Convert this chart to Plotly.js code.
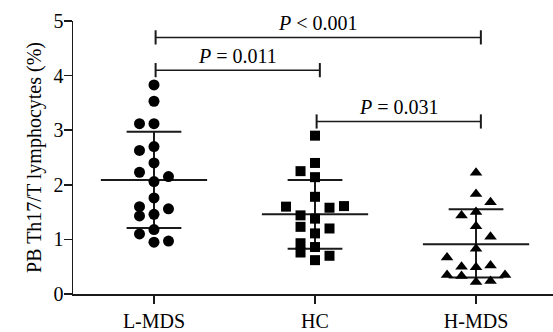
<!DOCTYPE html>
<html><head><meta charset="utf-8">
<script src="https://cdn.plot.ly/plotly-3.0.1.min.js"></script>
<style>html,body{margin:0;padding:0;background:#fff}#chart{width:553px;height:332px}</style>
</head><body><div id="chart"></div>
<script>
var categories = ['L-MDS', 'HC', 'H-MDS'];
var yTicks = [0, 1, 2, 3, 4, 5];

var lmdsValues = [3.83, 3.53, 3.12, 3.12, 2.63, 2.70, 2.40, 2.23, 2.15, 2.06, 1.76, 1.60, 1.56, 1.43, 1.46, 1.18, 1.10, 0.95, 0.97];
var lmdsJitter = [0, 0, -1, 0, -1, 0, 0, -1, 1, 0, 0, -1, 1, -1, 0, 0, -1, 0, 1];

var hcValues = [2.90, 2.40, 2.25, 2.14, 1.78, 1.60, 1.58, 1.61, 1.44, 1.38, 1.23, 1.20, 1.11, 0.93, 0.86, 0.76, 0.62, 0.70];
var hcJitter = [0, 0, -1, 0, 0, -2, 1, 2, -1, 0, -1, 1, 0, -1, 0, -1, 0, 1];

var hmdsValues = [2.22, 1.83, 1.68, 1.44, 1.50, 1.24, 1.05, 0.83, 0.67, 0.50, 0.49, 0.52, 0.35, 0.33, 0.35, 0.22, 0.24];
var hmdsJitter = [0, 0, 1, -1, 0, 0, 1, 0, -2, -1, 0, 1, -2, -1, 2, 0, 1];

var means = [2.09, 1.46, 0.91];
var sdUpper = [2.97, 2.09, 1.55];
var sdLower = [1.21, 0.83, 0.30];

var bracketFrom = [0, 0, 1];
var bracketTo = [2, 1, 2];
var bracketY = [4.70, 4.10, 3.16];
var bracketLabels = ['<i>P</i> < 0.001', '<i>P</i> = 0.011', '<i>P</i> = 0.031'];

var FONT = 'Liberation Serif, Times New Roman, serif';
var INK = '#1a1a1a';
var jitterStep = 0.09;

function mk(idx, vals, jit, sym, size) {
  return {
    type: 'scatter', mode: 'markers', cliponaxis: false, showlegend: false,
    x: vals.map(function (v, i) { return idx + jit[i] * jitterStep; }),
    y: vals,
    marker: {symbol: sym, size: size, color: '#000'}
  };
}

var traces = [
  mk(0, lmdsValues, lmdsJitter, 'circle', 11),
  mk(1, hcValues, hcJitter, 'square', 10),
  mk(2, hmdsValues, hmdsJitter, 'triangle-up', 11)
];

var shapes = [];
var lw = {color: INK, width: 2};
for (var i = 0; i < categories.length; i++) {
  shapes.push({type: 'line', xref: 'x', yref: 'y', x0: i - 0.33, x1: i + 0.33, y0: means[i], y1: means[i], line: lw, layer: 'below'});
  shapes.push({type: 'line', xref: 'x', yref: 'y', x0: i - 0.17, x1: i + 0.17, y0: sdUpper[i], y1: sdUpper[i], line: lw, layer: 'below'});
  shapes.push({type: 'line', xref: 'x', yref: 'y', x0: i - 0.17, x1: i + 0.17, y0: sdLower[i], y1: sdLower[i], line: lw, layer: 'below'});
  shapes.push({type: 'line', xref: 'x', yref: 'y', x0: i, x1: i, y0: sdLower[i], y1: sdUpper[i], line: lw, layer: 'below'});
}
var annotations = [];
var bl = {color: INK, width: 1.5};
for (var b = 0; b < bracketLabels.length; b++) {
  var x0 = bracketFrom[b] + 0.01, x1 = bracketTo[b] + 0.03;
  shapes.push({type: 'line', xref: 'x', yref: 'y', x0: x0, x1: x1, y0: bracketY[b], y1: bracketY[b], line: bl});
  shapes.push({type: 'line', xref: 'x', yref: 'y', x0: x0, x1: x0, y0: bracketY[b] - 0.13, y1: bracketY[b] + 0.13, line: {color: INK, width: 2}});
  shapes.push({type: 'line', xref: 'x', yref: 'y', x0: x1, x1: x1, y0: bracketY[b] - 0.13, y1: bracketY[b] + 0.13, line: {color: INK, width: 2}});
  annotations.push({xref: 'x', yref: 'y', x: (x0 + x1) / 2, y: bracketY[b], text: bracketLabels[b], showarrow: false,
    yanchor: 'middle', yshift: 14, font: {family: FONT, size: 20, color: '#000'}});
}

var layout = {
  width: 553, height: 332,
  margin: {l: 73, r: 0, t: 21, b: 38},
  paper_bgcolor: '#fff', plot_bgcolor: '#fff',
  font: {family: FONT, size: 20, color: '#000'},
  showlegend: false,
  xaxis: {
    range: [-0.503, 2.478], tickvals: [0, 1, 2], ticktext: categories,
    showline: true, linecolor: INK, linewidth: 1.5, ticks: 'outside', ticklen: 8, tickwidth: 1.5, tickcolor: INK,
    showgrid: false, zeroline: false, tickfont: {family: FONT, size: 20}
  },
  yaxis: {
    range: [0, 5], tickvals: yTicks,
    showline: true, linecolor: INK, linewidth: 1.5, ticks: 'outside', ticklen: 8, tickwidth: 1.5, tickcolor: INK,
    ticklabelstandoff: -4,
    showgrid: false, zeroline: false, tickfont: {family: FONT, size: 20},
    title: {text: 'PB Th17/T lymphocytes (%)', font: {family: FONT, size: 20}, standoff: 6}
  },
  shapes: shapes,
  annotations: annotations
};

Plotly.newPlot('chart', traces, layout, {staticPlot: true, displayModeBar: false});
</script></body></html>
